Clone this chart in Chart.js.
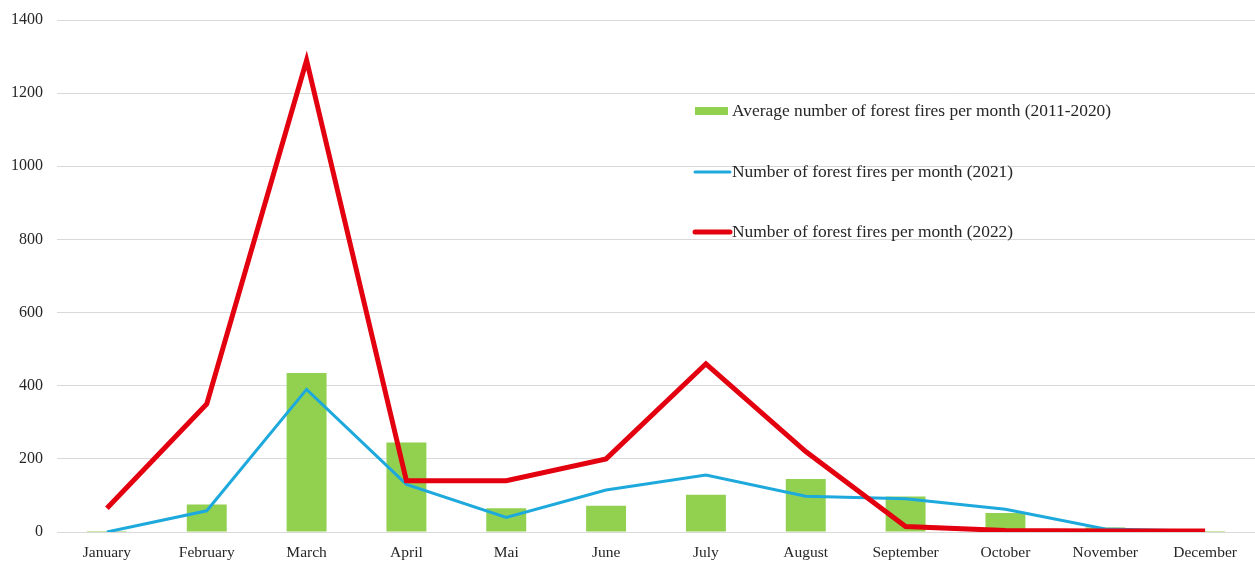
<!DOCTYPE html>
<html>
<head>
<meta charset="utf-8">
<title>Forest fires per month</title>
<script src="https://cdn.jsdelivr.net/npm/chart.js@4.4.1/dist/chart.umd.min.js"></script>
<style>
  html, body { margin: 0; padding: 0; background: #ffffff; }
  #wrap { width: 1255px; height: 563px; position: relative; }
</style>
</head>
<body>
<div id="wrap"><canvas id="chart"></canvas></div>
<script>
// Months on the category axis
const months = ['January', 'February', 'March', 'April', 'Mai', 'June',
                'July', 'August', 'September', 'October', 'November', 'December'];

// Average number of forest fires per month over 2011-2020
const average2011to2020 = [3, 75, 435, 245, 65, 72, 102, 145, 97, 52, 12, 3];

// Number of forest fires per month in 2021
const fires2021 = [0, 58, 390, 130, 40, 115, 156, 98, 91, 62, 8, 2];

// Number of forest fires per month in 2022
const fires2022 = [65, 350, 1290, 140, 140, 200, 460, 220, 15, 4, 3, 3];

// Y axis tick values
const yTicks = [0, 200, 400, 600, 800, 1000, 1200, 1400];

const labelAverage = 'Average number of forest fires per month (2011-2020)';
const label2021 = 'Number of forest fires per month (2021)';
const label2022 = 'Number of forest fires per month (2022)';

const serif = '"Liberation Serif", "Times New Roman", serif';

// Legend drawn inside the plot area, stacked vertically
const insideLegend = {
  id: 'insideLegend',
  afterDraw(chart) {
    const ctx = chart.ctx;
    const x0 = 695, keyW = 35, textX = 732;
    const rows = [
      { ds: chart.data.datasets[0], y: 111, kind: 'box' },
      { ds: chart.data.datasets[1], y: 172, kind: 'line' },
      { ds: chart.data.datasets[2], y: 232, kind: 'line' }
    ];
    ctx.save();
    ctx.font = '17.4px ' + serif;
    ctx.textBaseline = 'middle';
    ctx.textAlign = 'left';
    rows.forEach(r => {
      if (r.kind === 'box') {
        ctx.fillStyle = r.ds.backgroundColor;
        ctx.fillRect(x0, r.y - 4, keyW - 2, 8);
      } else {
        ctx.strokeStyle = r.ds.borderColor;
        ctx.lineWidth = r.ds.borderWidth;
        ctx.lineCap = 'round';
        ctx.beginPath();
        ctx.moveTo(x0, r.y);
        ctx.lineTo(x0 + keyW, r.y);
        ctx.stroke();
      }
      ctx.fillStyle = '#262626';
      ctx.fillText(r.ds.label, textX, r.y);
    });
    ctx.restore();
  }
};

new Chart(document.getElementById('chart'), {
  type: 'bar',
  data: {
    labels: months,
    datasets: [
      {
        type: 'bar',
        label: labelAverage,
        data: average2011to2020,
        backgroundColor: '#92d050',
        barPercentage: 0.4,
        categoryPercentage: 1.0,
        order: 3
      },
      {
        type: 'line',
        label: label2021,
        data: fires2021,
        borderColor: '#1ea9dc',
        borderWidth: 3,
        pointRadius: 0,
        tension: 0,
        order: 2
      },
      {
        type: 'line',
        label: label2022,
        data: fires2022,
        borderColor: '#e3000f',
        borderWidth: 5,
        pointRadius: 0,
        tension: 0,
        borderJoinStyle: 'miter',
        order: 1
      }
    ]
  },
  options: {
    responsive: true,
    maintainAspectRatio: false,
    animation: false,
    layout: { padding: { top: 20, right: 0, left: 0, bottom: 0 } },
    plugins: {
      legend: { display: false },
      tooltip: { enabled: false }
    },
    scales: {
      x: {
        offset: true,
        grid: { display: false, drawTicks: false },
        border: { display: false },
        ticks: {
          color: '#262626',
          font: { family: serif, size: 15.5 },
          padding: 12,
          maxRotation: 0,
          autoSkip: false
        },
        afterFit(scale) { scale.height = 31; }
      },
      y: {
        min: 0,
        max: 1400,
        afterBuildTicks(scale) { scale.ticks = yTicks.map(v => ({ value: v })); },
        grid: { color: '#d9d9d9', lineWidth: 1, drawTicks: false },
        border: { display: false },
        ticks: {
          color: '#262626',
          font: { family: serif, size: 16 },
          padding: 14,
          callback: v => String(v)
        },
        afterFit(scale) {
          scale.width = 57;
          scale.paddingTop = 0;
          scale.paddingBottom = 0;
        }
      }
    }
  },
  plugins: [insideLegend]
});
</script>
</body>
</html>
